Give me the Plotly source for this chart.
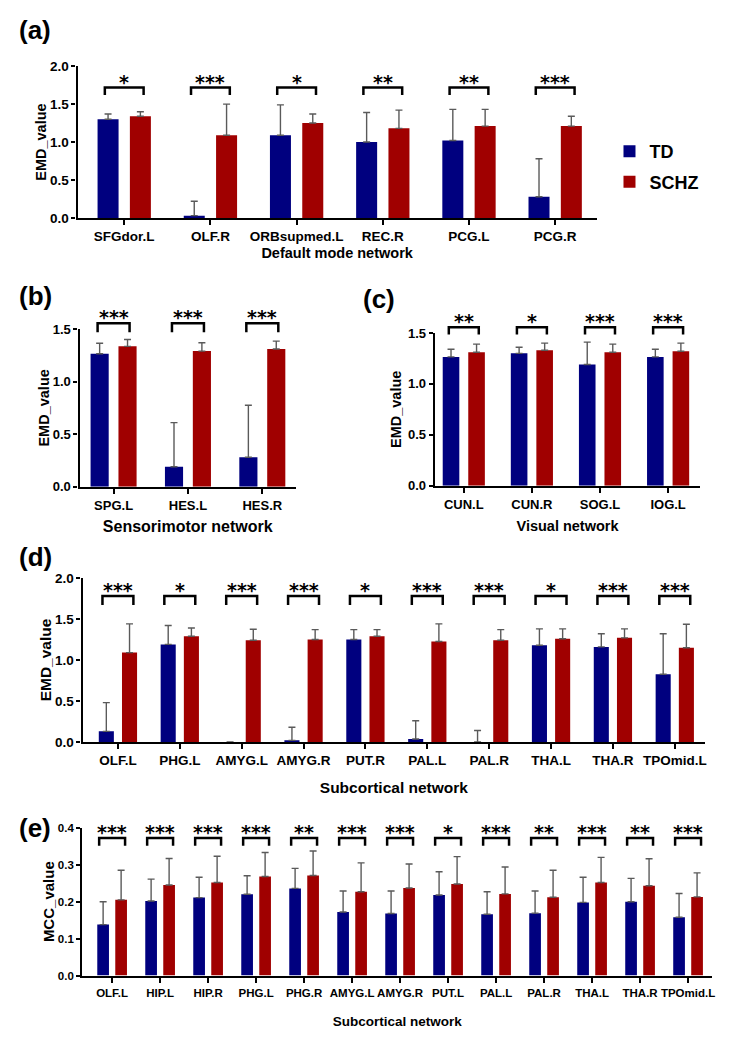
import plotly.graph_objects as go

W, H = 732, 1046

# ---------------- data ----------------
# (a) Default mode network
a_regions = ["SFGdor.L", "OLF.R", "ORBsupmed.L", "REC.R", "PCG.L", "PCG.R"]
a_td = [1.30, 0.03, 1.09, 1.00, 1.02, 0.28]
a_td_sd = [0.07, 0.19, 0.40, 0.39, 0.41, 0.50]
a_schz = [1.34, 1.09, 1.25, 1.18, 1.21, 1.21]
a_schz_sd = [0.06, 0.41, 0.12, 0.24, 0.22, 0.13]
a_stars = ["*", "***", "*", "**", "**", "***"]

# (b) Sensorimotor network
b_regions = ["SPG.L", "HES.L", "HES.R"]
b_td = [1.265, 0.19, 0.28]
b_td_sd = [0.10, 0.42, 0.495]
b_schz = [1.335, 1.29, 1.31]
b_schz_sd = [0.065, 0.08, 0.075]
b_stars = ["***", "***", "***"]

# (c) Visual network
c_regions = ["CUN.L", "CUN.R", "SOG.L", "IOG.L"]
c_td = [1.265, 1.30, 1.19, 1.265]
c_td_sd = [0.075, 0.06, 0.22, 0.075]
c_schz = [1.31, 1.33, 1.31, 1.32]
c_schz_sd = [0.08, 0.07, 0.08, 0.08]
c_stars = ["**", "*", "***", "***"]

# (d) Subcortical network (EMD)
d_regions = ["OLF.L", "PHG.L", "AMYG.L", "AMYG.R", "PUT.R", "PAL.L", "PAL.R", "THA.L", "THA.R", "TPOmid.L"]
d_td = [0.13, 1.19, 0.0, 0.02, 1.25, 0.036, 0.0, 1.18, 1.16, 0.826]
d_td_sd = [0.35, 0.23, None, 0.16, 0.12, 0.224, 0.14, 0.20, 0.16, 0.494]
d_schz = [1.09, 1.29, 1.24, 1.25, 1.29, 1.226, 1.24, 1.26, 1.27, 1.15]
d_schz_sd = [0.35, 0.10, 0.135, 0.12, 0.08, 0.214, 0.13, 0.12, 0.11, 0.285]
d_stars = ["***", "*", "***", "***", "*", "***", "***", "*", "***", "***"]

# (e) Subcortical network (MCC)
e_regions = ["OLF.L", "HIP.L", "HIP.R", "PHG.L", "PHG.R", "AMYG.L", "AMYG.R", "PUT.L",
             "PAL.L", "PAL.R", "THA.L", "THA.R", "TPOmid.L"]
e_td = [0.138, 0.202, 0.211, 0.220, 0.236, 0.172, 0.168, 0.218, 0.166, 0.169, 0.198, 0.200, 0.158]
e_td_sd = [0.062, 0.059, 0.055, 0.050, 0.054, 0.057, 0.061, 0.063, 0.061, 0.060, 0.068, 0.063, 0.064]
e_schz = [0.205, 0.245, 0.252, 0.268, 0.271, 0.227, 0.237, 0.248, 0.221, 0.212, 0.252, 0.243, 0.213]
e_schz_sd = [0.080, 0.072, 0.071, 0.065, 0.066, 0.078, 0.065, 0.074, 0.073, 0.073, 0.068, 0.073, 0.065]
e_stars = ["***", "***", "***", "***", "**", "***", "***", "*", "***", "**", "***", "**", "***"]

groups = ["TD", "SCHZ"]

# ---------------- styling / layout ----------------
TD_COLOR = "#00007F"
SCHZ_COLOR = "#A00000"
FONT = "Liberation Sans"

panels = [
    dict(label="(a)", regions=a_regions, td=a_td, td_sd=a_td_sd, sz=a_schz, sz_sd=a_schz_sd, stars=a_stars,
         xtitle="Default mode network", ytitle="EMD_value",
         box=(78, 599, 60, 214), xr=(-0.54, 5.48), yr=(0, 2.0), dt=0.5,
         br=(1.62, 1.718), hw=0.225, tickfs=13.5, xtfs=14.5, ytfs=14.5, xst=5, yst=0,
         lab=(17, 23)),
    dict(label="(b)", regions=b_regions, td=b_td, td_sd=b_td_sd, sz=b_schz, sz_sd=b_schz_sd, stars=b_stars,
         xtitle="Sensorimotor network", ytitle="EMD_value",
         box=(80, 297, 326.7, 486.7), xr=(-0.456, 2.45), yr=(0, 1.5), dt=0.5,
         br=(1.47, 1.556), hw=0.215, tickfs=13, xtfs=16, ytfs=14.5, xst=9, yst=0,
         lab=(17, 293)),
    dict(label="(c)", regions=c_regions, td=c_td, td_sd=c_td_sd, sz=c_schz, sz_sd=c_schz_sd, stars=c_stars,
         xtitle="Visual network", ytitle="EMD_value",
         box=(436.7, 703, 330.7, 485.7), xr=(-0.424, 3.47), yr=(0, 1.5), dt=0.5,
         br=(1.485, 1.556), hw=0.22, tickfs=13, xtfs=14.5, ytfs=14.5, xst=10, yst=3,
         lab=(362, 296)),
    dict(label="(d)", regions=d_regions, td=d_td, td_sd=d_td_sd, sz=d_schz, sz_sd=d_schz_sd, stars=d_stars,
         xtitle="Subcortical network", ytitle="EMD_value",
         box=(83, 708, 579.3, 745.7), xr=(-0.57, 9.49), yr=(0, 2.0), dt=0.5,
         br=(1.67, 1.78), hw=0.25, tickfs=13.5, xtfs=15.5, ytfs=15.5, xst=15, yst=0,
         lab=(17, 558)),
    dict(label="(e)", regions=e_regions, td=e_td, td_sd=e_td_sd, sz=e_schz, sz_sd=e_schz_sd, stars=e_stars,
         xtitle="Subcortical network", ytitle="MCC_value",
         box=(82.7, 715, 832.7, 982.7), xr=(-0.62, 12.5), yr=(0, 0.4), dt=0.1,
         br=(0.351, 0.372), hw=0.27, tickfs=11.5, xtfs=13.5, ytfs=15, xst=19, yst=0,
         lab=(17, 833)),
]

fig = go.Figure()
shapes = []
annotations = []


def to_paper(p, xi, yv):
    x0, x1, y0, y1 = p["box"]
    r0, r1 = p["xr"]
    v0, v1 = p["yr"]
    xpx = x0 + (xi - r0) / (r1 - r0) * (x1 - x0)
    ypx = y1 - (yv - v0) / (v1 - v0) * (y1 - y0)
    return xpx / W, 1 - ypx / H


for k, p in enumerate(panels):
    n = k + 1
    xa = "x" if n == 1 else f"x{n}"
    ya = "y" if n == 1 else f"y{n}"
    for gname, vals, sds, col in [
        (groups[0], p["td"], p["td_sd"], TD_COLOR),
        (groups[1], p["sz"], p["sz_sd"], SCHZ_COLOR),
    ]:
        fig.add_trace(go.Bar(
            x=p["regions"], y=vals, name=gname, legendgroup=gname, showlegend=(n == 1),
            marker=dict(color=col, line=dict(width=0)),
            error_y=dict(type="data", symmetric=False, array=sds, arrayminus=[0] * len(vals),
                         color="#5a5a5a", thickness=1.4, width=3.5),
            xaxis=xa, yaxis=ya,
        ))

    x0, x1, y0, y1 = p["box"]
    ticks = []
    t = p["yr"][0]
    while t <= p["yr"][1] + 1e-9:
        ticks.append(round(t, 3))
        t += p["dt"]
    axkey = "" if n == 1 else str(n)
    fig.update_layout(**{
        f"xaxis{axkey}": dict(
            domain=[x0 / W, x1 / W], anchor=ya, type="category", range=list(p["xr"]),
            showline=True, linecolor="black", linewidth=2.4, ticks="outside", ticklen=5,
            tickwidth=2, tickcolor="black", showgrid=False, zeroline=False,
            tickfont=dict(family=FONT, size=p["tickfs"], color="black", weight="bold"),
            title=dict(text=p["xtitle"], standoff=p["xst"],
                       font=dict(family=FONT, size=p["xtfs"], color="black", weight="bold")),
        ),
        f"yaxis{axkey}": dict(
            domain=[1 - y1 / H, 1 - y0 / H], anchor=xa, range=list(p["yr"]),
            tickvals=ticks, tickformat=".1f",
            showline=True, linecolor="black", linewidth=2.4, ticks="outside", ticklen=4,
            tickwidth=2, tickcolor="black", showgrid=False, zeroline=False,
            tickfont=dict(family=FONT, size=p["tickfs"], color="black", weight="bold"),
            title=dict(text=p["ytitle"], standoff=p["yst"],
                       font=dict(family=FONT, size=p["ytfs"], color="black", weight="bold")),
        ),
    })

    yb, yt = p["br"]
    for i, s in enumerate(p["stars"]):
        xl, ybp = to_paper(p, i - p["hw"], yb)
        xr_, ytp = to_paper(p, i + p["hw"], yt)
        shapes.append(dict(type="path", xref="paper", yref="paper",
                           path=f"M {xl},{ybp} L {xl},{ytp} L {xr_},{ytp} L {xr_},{ybp}",
                           line=dict(color="black", width=2.5)))
        xc, _ = to_paper(p, i, yt)
        annotations.append(dict(x=xc, y=ytp, xref="paper", yref="paper", text=s, showarrow=False,
                                xanchor="center", yanchor="bottom", yshift=-7,
                                font=dict(family="DejaVu Sans", size=19, color="black", weight="bold")))

    lx, ly = p["lab"]
    annotations.append(dict(x=lx / W, y=1 - ly / H, xref="paper", yref="paper", text=p["label"],
                            showarrow=False, xanchor="left", yanchor="middle",
                            font=dict(family=FONT, size=26, color="black", weight="bold")))

fig.update_layout(
    width=W, height=H, margin=dict(l=0, r=0, t=0, b=0),
    paper_bgcolor="white", plot_bgcolor="white",
    barmode="group", bargap=0.25, bargroupgap=0.35,
    shapes=shapes, annotations=annotations,
    legend=dict(x=612 / W, y=1 - 128 / H, xanchor="left", yanchor="top", traceorder="grouped",
                tracegroupgap=4, bgcolor="rgba(0,0,0,0)",
                font=dict(family=FONT, size=18, color="black", weight="bold")),
    font=dict(family=FONT, color="black"),
)

fig.write_html("out.html", config={"displayModeBar": False},
               post_script="document.body.style.margin='0';")
